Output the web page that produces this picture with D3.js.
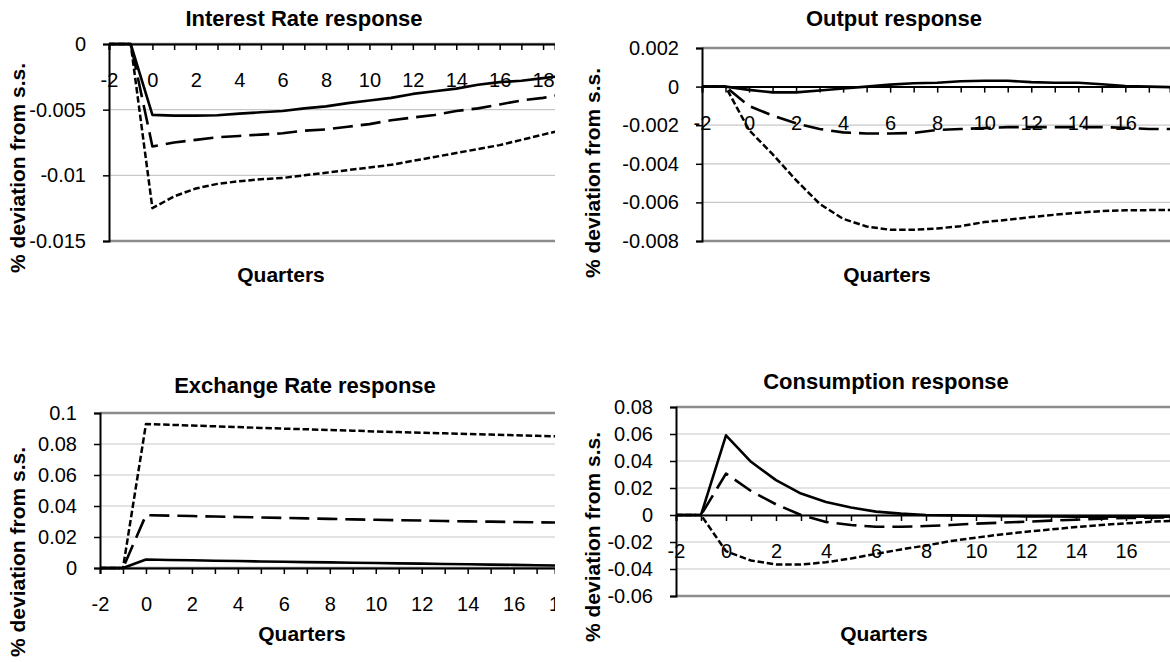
<!DOCTYPE html>
<html>
<head>
<meta charset="utf-8">
<script src="https://cdn.jsdelivr.net/npm/d3@7"></script>
<style>
  body { margin: 0; background: #fff; }
  svg { display: block; font-family: "Liberation Sans", Arial, sans-serif; }
</style>
</head>
<body>
<div id="chart"></div>
<script>
// Quarters after the shock (category axis)
const quarters = [-2, -1, 0, 1, 2, 3, 4, 5, 6, 7, 8, 9, 10, 11, 12, 13, 14, 15, 16, 17, 18, 19];

// Interest rate response
const interestSolid  = [0, 0, -0.0054, -0.00545, -0.00545, -0.00543, -0.0053, -0.0052, -0.0051, -0.0049, -0.00475, -0.0045, -0.0043, -0.0041, -0.0038, -0.0036, -0.0034, -0.0031, -0.0029, -0.0028, -0.0026, -0.0024];
const interestDashed = [0, 0, -0.0078, -0.0075, -0.0073, -0.0071, -0.0070, -0.0069, -0.0068, -0.0066, -0.0065, -0.0063, -0.0061, -0.0058, -0.0056, -0.0054, -0.0051, -0.0049, -0.0046, -0.0043, -0.0041, -0.0038];
const interestDotted = [0, 0, -0.0125, -0.0116, -0.0110, -0.01065, -0.01045, -0.0103, -0.0102, -0.0100, -0.0098, -0.0096, -0.0094, -0.0092, -0.0089, -0.0086, -0.0083, -0.0080, -0.0077, -0.0073, -0.0069, -0.0065];
const interestTicks  = [0, -0.005, -0.01, -0.015];

// Output response
const outputSolid  = [0, 0, -0.00017, -0.0003, -0.0003, -0.0002, -0.0001, 0, 0.0001, 0.00017, 0.0002, 0.00028, 0.0003, 0.0003, 0.00023, 0.0002, 0.0002, 0.00012, 0.00003, 0, -0.00003, -0.00005];
const outputDashed = [0, 0, -0.001, -0.0015, -0.0019, -0.0022, -0.00237, -0.00243, -0.00243, -0.0024, -0.00225, -0.0022, -0.00215, -0.0021, -0.0021, -0.0021, -0.0021, -0.0021, -0.00213, -0.0022, -0.0022, -0.0022];
const outputDotted = [0, 0, -0.00225, -0.0035, -0.00485, -0.00607, -0.00685, -0.00725, -0.00742, -0.00742, -0.00735, -0.00723, -0.00702, -0.0069, -0.00676, -0.00664, -0.00653, -0.00645, -0.00641, -0.0064, -0.0064, -0.0064];
const outputTicks  = [0.002, 0, -0.002, -0.004, -0.006, -0.008];

// Exchange rate response
const exchangeSolid  = [0, 0, 0.0055, 0.0052, 0.0050, 0.0047, 0.0045, 0.0042, 0.0040, 0.0038, 0.0036, 0.0034, 0.0032, 0.0030, 0.0028, 0.0026, 0.0024, 0.0022, 0.0020, 0.0018, 0.0016, 0.0015];
const exchangeDashed = [0, 0, 0.0341, 0.0338, 0.0335, 0.0332, 0.0329, 0.0326, 0.0323, 0.0320, 0.0317, 0.0314, 0.0311, 0.0308, 0.0306, 0.0303, 0.0301, 0.0299, 0.0297, 0.0295, 0.0293, 0.0291];
const exchangeDotted = [0, 0, 0.0929, 0.0924, 0.0919, 0.0914, 0.0909, 0.0904, 0.0899, 0.0895, 0.0890, 0.0886, 0.0881, 0.0877, 0.0873, 0.0869, 0.0865, 0.0861, 0.0857, 0.0853, 0.0849, 0.0845];
const exchangeTicks  = [0.1, 0.08, 0.06, 0.04, 0.02, 0];

// Consumption response
const consumptionSolid  = [0, 0, 0.059, 0.0394, 0.0258, 0.0159, 0.0097, 0.0055, 0.0025, 0.001, 0, -0.0003, -0.0006, -0.0008, -0.001, -0.0011, -0.0012, -0.0013, -0.0013, -0.0013, -0.0013, -0.0012];
const consumptionDashed = [0, 0, 0.0307, 0.0178, 0.0079, 0, -0.0052, -0.0074, -0.0087, -0.0087, -0.0082, -0.0074, -0.0064, -0.0057, -0.005, -0.0042, -0.0035, -0.0027, -0.0022, -0.002, -0.0017, -0.0015];
const consumptionDotted = [0, 0, -0.0268, -0.0337, -0.0367, -0.0367, -0.035, -0.0322, -0.0288, -0.0255, -0.0226, -0.0193, -0.0168, -0.0144, -0.0124, -0.0107, -0.0089, -0.0074, -0.0062, -0.005, -0.0042, -0.0036];
const consumptionTicks  = [0.08, 0.06, 0.04, 0.02, 0, -0.02, -0.04, -0.06];

const width = 1170;
const height = 662;

// line styles: solid, long dash, short dash
const styles = [
  { w: 2.6, dash: null },
  { w: 2.6, dash: '20,8' },
  { w: 2.5, dash: '6.5,2.8' }
];

// layout of each panel
const panels = [
  { title: 'Interest Rate response', series: [interestSolid, interestDashed, interestDotted], ticks: interestTicks,
    left: 109, right: 555, top: 44, bottom: 241, xMax: 18.55, lastLabel: 18,
    titleX: 304, titleY: 18, qX: 281, qY: 274, labelX: 17, labelY: 168 },
  { title: 'Output response', series: [outputSolid, outputDashed, outputDotted], ticks: outputTicks,
    left: 702, right: 1170, top: 48, bottom: 241, xMax: 17.9, lastLabel: 17,
    titleX: 894, titleY: 18, qX: 887, qY: 274, labelX: 592, labelY: 173 },
  { title: 'Exchange Rate response', series: [exchangeSolid, exchangeDashed, exchangeDotted], ticks: exchangeTicks,
    left: 100, right: 555, top: 413, bottom: 568, xMax: 17.8, lastLabel: 18,
    titleX: 305, titleY: 385, qX: 302, qY: 633, labelX: 17, labelY: 552 },
  { title: 'Consumption response', series: [consumptionSolid, consumptionDashed, consumptionDotted], ticks: consumptionTicks,
    left: 676, right: 1170, top: 407, bottom: 596, xMax: 17.76, lastLabel: 17,
    titleX: 886, titleY: 381, qX: 884, qY: 633, labelX: 592, labelY: 537 }
];

const svg = d3.select('#chart')
  .append('svg')
  .attr('width', width)
  .attr('height', height)
  .attr('viewBox', [0, 0, width, height]);

const fmt = d => String(+d.toFixed(4));

panels.forEach((p, i) => {
  const g = svg.append('g');

  const x = d3.scaleLinear().domain([-2, p.xMax]).range([p.left, p.right]);
  const y = d3.scaleLinear().domain(d3.extent(p.ticks)).range([p.bottom, p.top]);

  // the original pictures were cut off at the right edge of the plot
  const cutId = 'cut' + i;
  svg.append('clipPath').attr('id', cutId)
    .append('rect')
    .attr('x', 0).attr('y', 0)
    .attr('width', p.right).attr('height', height);

  // gridlines
  g.append('g')
    .selectAll('line')
    .data(p.ticks.filter(t => y(t) > p.top + 1 && y(t) < p.bottom - 1))
    .join('line')
    .attr('x1', p.left).attr('x2', p.right)
    .attr('y1', d => y(d)).attr('y2', d => y(d))
    .attr('stroke', '#c8c8c8')
    .attr('stroke-width', 1.2);

  // plot frame top and bottom (grey)
  [p.top, p.bottom].forEach(yy => {
    g.append('line')
      .attr('x1', p.left).attr('x2', p.right)
      .attr('y1', yy).attr('y2', yy)
      .attr('stroke', '#8c8c8c')
      .attr('stroke-width', 2.5);
  });

  // y axis
  g.append('g')
    .attr('transform', `translate(${p.left},0)`)
    .call(d3.axisLeft(y).tickValues(p.ticks).tickFormat(fmt).tickSize(6).tickPadding(17))
    .call(a => a.select('.domain').attr('stroke', '#000').attr('stroke-width', 2))
    .call(a => a.selectAll('.tick line').attr('stroke', '#000').attr('stroke-width', 1.5))
    .call(a => a.selectAll('text').attr('font-size', 20).attr('fill', '#000')
      .attr('font-family', '"Liberation Sans", Arial, sans-serif'));

  // x axis at zero (ticks on every quarter, labels on even ones)
  const xTicks = quarters.filter(q => q <= p.lastLabel);
  g.append('g')
    .attr('clip-path', `url(#${cutId})`)
    .append('g')
    .attr('transform', `translate(0,${y(0)})`)
    .call(d3.axisBottom(x).tickValues(xTicks).tickFormat(d => d % 2 === 0 ? d : '').tickSize(6).tickPadding(23))
    .call(a => a.select('.domain').attr('stroke', '#000').attr('stroke-width', 2))
    .call(a => a.selectAll('.tick line').attr('stroke', '#000').attr('stroke-width', 1.5))
    .call(a => a.selectAll('text').attr('font-size', 20).attr('fill', '#000')
      .attr('font-family', '"Liberation Sans", Arial, sans-serif'));

  // lines, clipped to plot area
  const clipId = 'clip' + i;
  svg.append('clipPath').attr('id', clipId)
    .append('rect')
    .attr('x', p.left).attr('y', p.top - 10)
    .attr('width', p.right - p.left).attr('height', p.bottom - p.top + 20);

  const line = d3.line()
    .x((d, j) => x(quarters[j]))
    .y(d => y(d));

  g.append('g')
    .attr('clip-path', `url(#${clipId})`)
    .selectAll('path')
    .data(p.series)
    .join('path')
    .attr('d', d => line(d))
    .attr('fill', 'none')
    .attr('stroke', '#000')
    .attr('stroke-width', (d, j) => styles[j].w)
    .attr('stroke-dasharray', (d, j) => styles[j].dash)
    .attr('stroke-linejoin', 'round');

  // title
  g.append('text')
    .attr('x', p.titleX).attr('y', p.titleY)
    .attr('text-anchor', 'middle')
    .attr('dominant-baseline', 'central')
    .attr('font-size', 22).attr('font-weight', 'bold')
    .text(p.title);

  // x axis title
  g.append('text')
    .attr('x', p.qX).attr('y', p.qY)
    .attr('text-anchor', 'middle')
    .attr('dominant-baseline', 'central')
    .attr('font-size', 21).attr('font-weight', 'bold')
    .text('Quarters');

  // y axis title
  g.append('text')
    .attr('transform', `translate(${p.labelX},${p.labelY}) rotate(-90)`)
    .attr('text-anchor', 'middle')
    .attr('dominant-baseline', 'central')
    .attr('font-size', 21).attr('font-weight', 'bold')
    .text('% deviation from s.s.');
});
</script>
</body>
</html>
